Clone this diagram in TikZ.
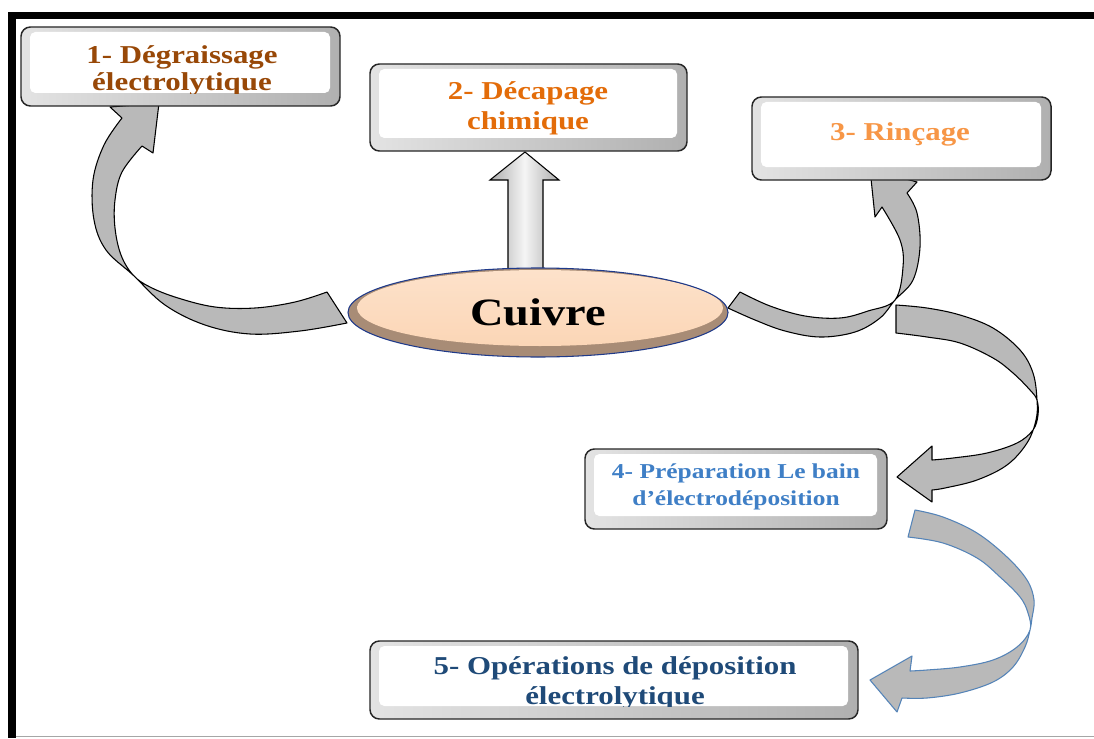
\documentclass[tikz,border=0pt]{standalone}
\usepackage{fontspec}
\newfontfamily\boxfont[FakeStretch=1.2]{Liberation Serif}
\usetikzlibrary{calc,shapes.geometric}
\definecolor{cone}{HTML}{984807}
\definecolor{ctwo}{HTML}{E36C09}
\definecolor{cthree}{HTML}{F79646}
\definecolor{cfour}{HTML}{3F7FC6}
\definecolor{cfive}{HTML}{1F4A78}
\definecolor{peach}{HTML}{FBD4B3}
\definecolor{peachlight}{HTML}{FDE2CB}
\definecolor{tan}{HTML}{A88C76}
\definecolor{navy}{HTML}{1F3A8A}
\definecolor{ribblue}{HTML}{5584B8}
\begin{document}
\begin{tikzpicture}[x=0.75pt,y=-0.75pt,
  stagebox/.style={rectangle, rounded corners=7pt, draw=black!85, line width=1.1pt,
    left color=gray!22, right color=gray!62, inner sep=0pt,
    path picture={\fill[white, rounded corners=4pt]
      ([xshift=6.75pt,yshift=-3.75pt]path picture bounding box.north west) rectangle
      ([xshift=-7.5pt,yshift=9.75pt]path picture bounding box.south east);}},
  stagetext/.style={anchor=base, align=center, inner sep=0pt,
    font=\boxfont\bfseries\fontsize{19.3}{20.25}\selectfont},
  ribbon/.style={fill=gray!55, draw=black, line width=0.8pt, line join=round},
]
\useasboundingbox (0,0) rectangle (1094,738);
\fill[white] (0,0) rectangle (1094,738);
% frame
\fill[black] (8,12.5) rectangle (1094,19.5);
\fill[black] (8,12.5) rectangle (15.5,738);
\draw[gray!70, line width=1.1pt] (15.5,736.5) -- (1094,736.5);

% arrow 1 (to box 1)
\path[ribbon] plot[smooth, tension=0.6] coordinates {(327,292) (295,302) (255,308) (215,307) (178,298) (150,287) (133,275) (121,255) (115,228) (115,200) (122,172) (142,146)}
  -- (153,153) -- (159,103) -- (110,107) --
  plot[smooth, tension=0.6] coordinates {(122,118) (104,145) (93,180) (94,220) (106,250) (133,275) (165,305) (205,325) (250,334) (300,331) (347,323)}
  -- cycle;
% arrow 3 (to box 3)
\path[ribbon] plot[smooth, tension=0.6] coordinates {(740,292) (770,306) (805,316) (840,318) (868,311) (895,300) (903,267) (900,240) (882,207)}
  -- (875,217) -- (870,169) -- (917,182) --
  plot[smooth, tension=0.6] coordinates {(907,193) (917,213) (920,247) (913,280) (895,300) (880,318) (855,332) (820,337) (785,331) (755,320) (728,308)}
  -- cycle;
% arrow 4 (to box 4)
\path[ribbon] plot[smooth, tension=0.6] coordinates {(896,305) (927,308) (960,315) (993,328) (1020,350) (1033,373) (1037,400) (1036,420) (1027,443) (1007,465) (977,480) (945,488) (932,490)}
  -- (932,502) -- (897,477) -- (932,446) --
  plot[smooth, tension=0.6] coordinates {(932,460) (953,458) (987,453) (1017,443) (1033,430) (1038,415) (1037,400) (1030,390) (1013,373) (993,358) (960,343) (927,337) (896,333)}
  -- cycle;
% arrow 5 (to box 5)
\path[ribbon, draw=ribblue] plot[smooth, tension=0.6] coordinates {(915,510) (943,517) (977,533) (1007,557) (1027,580) (1034,600) (1032,618) (1030,630) (1025,647) (1013,667) (993,682) (960,693) (927,698) (902,698)}
  -- (897,712) -- (870,680) -- (912,656) --
  plot[smooth, tension=0.6] coordinates {(910,671) (927,670) (960,667) (993,660) (1017,647) (1030,630) (1028,613) (1020,597) (1000,577) (977,558) (943,543) (908,537)}
  -- cycle;
% straight arrow to box 2
\path[draw=black, line width=0.8pt, left color=gray!65, right color=gray!65, middle color=gray!8]
  (508,272) -- (508,180) -- (490,180) -- (525,152) -- (559,180) -- (543,180) -- (543,272) -- cycle;

% central ellipse
\node[ellipse, minimum width=285pt, minimum height=66.75pt, inner sep=0pt,
  draw=navy, line width=0.8pt, fill=tan,
  path picture={\fill[top color=peachlight, bottom color=peach]
    ($(path picture bounding box.center)+(2,-4.5)$) ellipse [x radius=137.25pt, y radius=28.5pt];},
  font=\boxfont\bfseries\fontsize{29}{34}\selectfont] (cu) at (538,312.5) {Cuivre};

% boxes
\node[stagebox, minimum width=239.25pt, minimum height=59.25pt] (b1) at (180.5,66.5) {};
\node[stagebox, minimum width=237.75pt, minimum height=65.25pt] (b2) at (528.5,107.5) {};
\node[stagebox, minimum width=224.25pt, minimum height=62.25pt] (b3) at (901.5,138.5) {};
\node[stagebox, minimum width=226.5pt, minimum height=60pt] (b4) at (736,489) {};
\node[stagebox, minimum width=366pt, minimum height=58.5pt] (b5) at (614,680) {};

\begin{scope}
\clip[rounded corners=4pt] ([xshift=6.75pt,yshift=-3.75pt]b1.north west) rectangle ([xshift=-7.5pt,yshift=9.75pt]b1.south east);
\node[stagetext, text=cone] (t1) at (182,91) {1- Dégraissage\\électrolytique};
\end{scope}
\node[stagetext, text=ctwo, font=\boxfont\bfseries\fontsize{19.3}{22.5}\selectfont] (t2) at (528,130) {2- Décapage\\chimique};
\node[stagetext, text=cthree] (t3) at (900,141) {3- Rinçage};
\node[stagetext, text=cfour, font=\boxfont\bfseries\fontsize{15.9}{20.25}\selectfont] (t4) at (736,505) {4- Préparation Le bain\\d’électrodéposition};
\begin{scope}
\clip[rounded corners=4pt] ([xshift=6.75pt,yshift=-3.75pt]b5.north west) rectangle ([xshift=-7.5pt,yshift=9.75pt]b5.south east);
\node[stagetext, text=cfive, font=\boxfont\bfseries\fontsize{19.3}{22.5}\selectfont] (t5) at (615,704) {5- Opérations de déposition\\électrolytique};
\end{scope}
\end{tikzpicture}
\end{document}
